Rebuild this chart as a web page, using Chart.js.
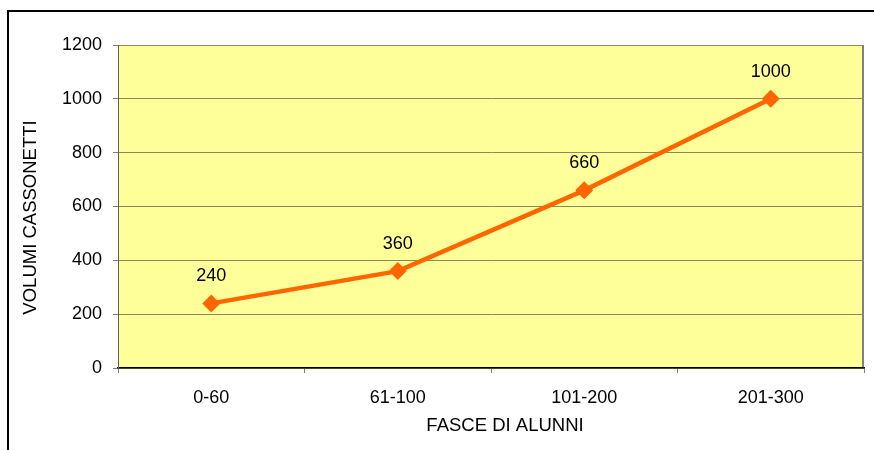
<!DOCTYPE html>
<html>
<head>
<meta charset="utf-8">
<script src="https://cdn.jsdelivr.net/npm/chart.js@4/dist/chart.umd.min.js"></script>
<style>
  html, body { margin: 0; padding: 0; background: #fff; }
  #wrap { width: 874px; height: 450px; }
</style>
</head>
<body>
<div id="wrap"><canvas id="volumiChart" width="874" height="450"></canvas></div>
<script>
const categories = ['0-60', '61-100', '101-200', '201-300'];
const volumi = [240, 360, 660, 1000];
const yTicks = [0, 200, 400, 600, 800, 1000, 1200];
const xTitle = 'FASCE DI ALUNNI';
const yTitle = 'VOLUMI CASSONETTI';

const FONT = 'Liberation Sans, Arial, sans-serif';
const FSIZE = 18;
const GRID = '#8a8a5a';

// sfondo giallo, cornice esterna, titoli degli assi ed etichette dei valori
const plotDecor = {
  id: 'plotDecor',
  beforeDraw(chart) {
    const { ctx, chartArea: a } = chart;
    ctx.save();
    ctx.fillStyle = '#ffff99';
    ctx.fillRect(a.left, a.top, a.right - a.left, a.bottom - a.top);
    ctx.strokeStyle = '#808080';
    ctx.lineWidth = 1;
    ctx.strokeRect(a.left + 0.5, a.top + 0.5, a.right - a.left - 1, a.bottom - a.top);
    ctx.lineWidth = 2;
    ctx.beginPath();
    ctx.moveTo(a.right - 1, a.top);
    ctx.lineTo(a.right - 1, a.bottom);
    ctx.stroke();
    // cornice esterna
    ctx.strokeStyle = '#000';
    ctx.lineWidth = 2;
    ctx.beginPath();
    ctx.moveTo(8, 450);
    ctx.lineTo(8, 11);
    ctx.lineTo(874, 11);
    ctx.stroke();
    // titoli assi (leggermente spostati come nell'originale)
    ctx.fillStyle = '#000';
    ctx.font = '18.5px ' + FONT;
    ctx.textAlign = 'center';
    ctx.textBaseline = 'middle';
    ctx.fillText(xTitle, a.left + (a.right - a.left) / 2 + 14, 426);
    ctx.translate(31, a.top + (a.bottom - a.top) / 2 + 11);
    ctx.rotate(-Math.PI / 2);
    ctx.fillText(yTitle, 0, 0);
    ctx.restore();
  },
  afterDatasetsDraw(chart) {
    const { ctx } = chart;
    const meta = chart.getDatasetMeta(0);
    ctx.save();
    ctx.fillStyle = '#000';
    ctx.font = FSIZE + 'px ' + FONT;
    ctx.textAlign = 'center';
    ctx.textBaseline = 'middle';
    meta.data.forEach((pt, i) => {
      ctx.fillText(String(volumi[i]), pt.x, pt.y - 27);
    });
    ctx.restore();
  }
};

new Chart(document.getElementById('volumiChart').getContext('2d'), {
  type: 'line',
  data: {
    labels: categories,
    datasets: [{
      data: volumi,
      borderColor: '#ff6600',
      backgroundColor: '#ff6600',
      borderWidth: 4.5,
      pointStyle: 'rectRot',
      pointRadius: 9,
      pointHoverRadius: 9,
      pointBorderWidth: 0,
      tension: 0
    }]
  },
  options: {
    responsive: false,
    animation: false,
    layout: { padding: { left: 0, top: 45, right: 10, bottom: 0 } },
    plugins: {
      legend: { display: false },
      tooltip: { enabled: false }
    },
    scales: {
      x: {
        offset: true,
        afterFit(scale) { scale.height = 82; },
        grid: {
          offset: true,
          drawOnChartArea: false,
          drawTicks: true,
          tickLength: 5,
          tickColor: '#808080'
        },
        border: { color: '#000', width: 1.5 },
        ticks: { color: '#000', font: { family: FONT, size: FSIZE }, padding: 14 }
      },
      y: {
        min: 0,
        max: 1200,
        afterFit(scale) { scale.width = 118; },
        afterBuildTicks(scale) { scale.ticks = yTicks.map(v => ({ value: v })); },
        grid: {
          color: GRID,
          lineWidth: 1,
          drawTicks: true,
          tickLength: 5,
          tickColor: '#808080'
        },
        border: { color: '#606060' },
        ticks: {
          color: '#000',
          font: { family: FONT, size: FSIZE },
          padding: 11,
          callback: v => String(v)
        }
      }
    }
  },
  plugins: [plotDecor]
});
</script>
</body>
</html>
